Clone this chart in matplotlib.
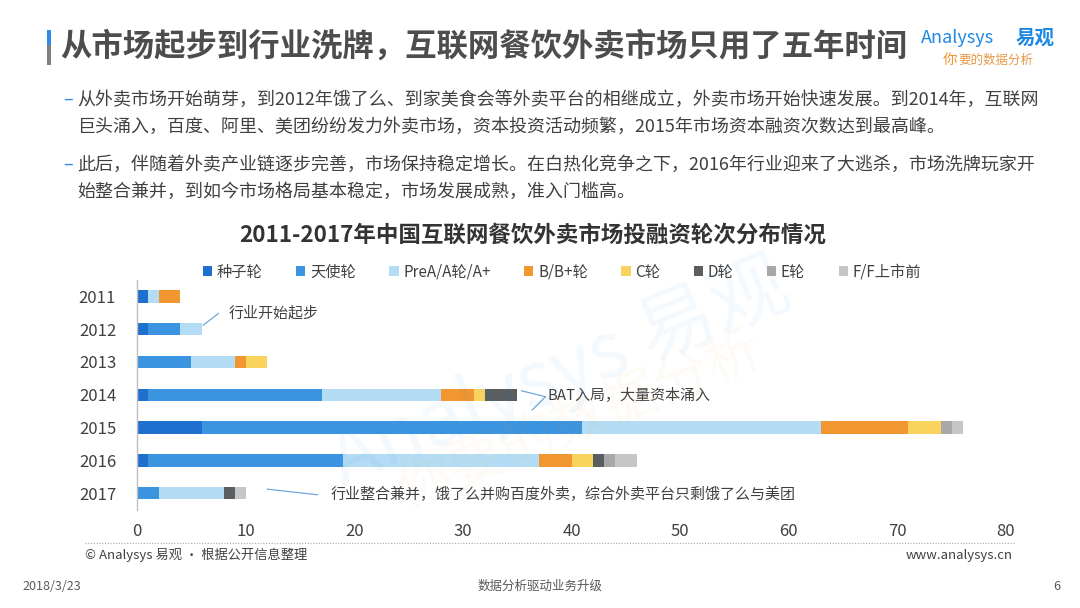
import matplotlib
matplotlib.use("Agg")
import matplotlib.pyplot as plt
from matplotlib.lines import Line2D
from matplotlib.patches import Rectangle
import numpy as np

plt.rcParams['font.family'] = ['Noto Sans CJK SC', 'DejaVu Sans']

years = ['2011', '2012', '2013', '2014', '2015', '2016', '2017']
rounds = ['种子轮', '天使轮', 'PreA/A轮/A+', 'B/B+轮', 'C轮', 'D轮', 'E轮', 'F/F上市前']
seed   = [1, 1, 0, 1, 6, 1, 0]
angel  = [0, 3, 5, 16, 35, 18, 2]
prea   = [1, 2, 4, 11, 22, 18, 6]
b_rnd  = [2, 0, 1, 3, 8, 3, 0]
c_rnd  = [0, 0, 2, 1, 3, 2, 0]
d_rnd  = [0, 0, 0, 3, 0, 1, 1]
e_rnd  = [0, 0, 0, 0, 1, 1, 0]
f_rnd  = [0, 0, 0, 0, 1, 2, 1]
series = [seed, angel, prea, b_rnd, c_rnd, d_rnd, e_rnd, f_rnd]
colors = ['#1F6FCF', '#3B94E0', '#B4DDF5', '#F2962F', '#FAD35F', '#5A5E61', '#A8A8A8', '#C6C6C6']
xticks = [0, 10, 20, 30, 40, 50, 60, 70, 80]

W, H = 1080, 608
fig = plt.figure(figsize=(W / 100, H / 100), dpi=100)
fig.patch.set_facecolor('white')

def fx(px):
    return px / W

def fy(py):
    return 1 - py / H

# title bar
fig.patches.append(Rectangle((fx(47), fy(45)), fx(4), 15 / H, transform=fig.transFigure,
                             facecolor='#2E8BE6', edgecolor='none'))
fig.patches.append(Rectangle((fx(47), fy(65)), fx(4), 20 / H, transform=fig.transFigure,
                             facecolor='#808080', edgecolor='none'))
fig.text(fx(60), fy(47), '从市场起步到行业洗牌，互联网餐饮外卖市场只用了五年时间',
         fontsize=22.6, fontweight='bold', color='#4D4D4D', ha='left', va='center')

# logo
fig.text(fx(921), fy(38), 'Analysys', fontsize=13, color='#1E88E5', ha='left', va='center',
         style='italic')
fig.text(fx(1055), fy(38), '易观', fontsize=14, fontweight='bold', color='#1E88E5',
         ha='right', va='center')
fig.text(fx(943), fy(60), '你', fontsize=10.5, color='#F0962E', ha='left', va='center')
fig.text(fx(958), fy(60), '要的数据分析', fontsize=9, color='#E59A4A', ha='left', va='center',
         style='italic')

# bullet paragraphs
para_lines = [
    (100, '从外卖市场开始萌芽，到2012年饿了么、到家美食会等外卖平台的相继成立，外卖市场开始快速发展。到2014年，互联网', True),
    (127, '巨头涌入，百度、阿里、美团纷纷发力外卖市场，资本投资活动频繁，2015年市场资本融资次数达到最高峰。', False),
    (165, '此后，伴随着外卖产业链逐步完善，市场保持稳定增长。在白热化竞争之下，2016年行业迎来了大逃杀，市场洗牌玩家开', True),
    (192, '始整合兼并，到如今市场格局基本稳定，市场发展成熟，准入门槛高。', False),
]
for py, txt, dash in para_lines:
    if dash:
        fig.text(fx(63), fy(py), '–', fontsize=13, color='#2E8BE6', ha='left', va='center')
    fig.text(fx(77), fy(py), txt, fontsize=12.95, color='#404040', ha='left', va='center')

# chart title
fig.text(fx(533), fy(235), '2011-2017年中国互联网餐饮外卖市场投融资轮次分布情况',
         fontsize=16.2, fontweight='bold', color='#333333', ha='center', va='center')

# watermark
fig.text(fx(560), fy(375), 'Analysys 易观', fontsize=56, color='#3B94E0', alpha=0.06,
         rotation=22, ha='center', va='center', style='italic')
fig.text(fx(580), fy(420), '你要的数据分析', fontsize=40, color='#F2962F', alpha=0.05,
         rotation=22, ha='center', va='center')

# axes
ax = fig.add_axes([fx(137), fy(509.5), fx(1006) - fx(137), 229.5 / H])
ypos = np.arange(len(years))
left = np.zeros(len(years))
handles = []
for name, vals, col in zip(rounds, series, colors):
    vals = np.array(vals, dtype=float)
    bc = ax.barh(ypos, vals, left=left, height=0.38, color=col, edgecolor='none', label=name)
    handles.append(bc)
    left = left + vals

ax.set_xlim(0, 80)
ax.set_ylim(6.5, -0.5)
ax.set_yticks(ypos)
ax.set_yticklabels(years, fontsize=12, color='#404040')
ax.set_xticks(xticks)
ax.set_xticklabels([str(t) for t in xticks], fontsize=12, color='#404040')
ax.tick_params(axis='both', length=0)
ax.tick_params(axis='x', pad=10)
ax.tick_params(axis='y', pad=15)
for s in ['top', 'right', 'bottom']:
    ax.spines[s].set_visible(False)
ax.spines['left'].set_color('#BFBFBF')
ax.spines['left'].set_linewidth(1)
ax.set_facecolor('none')

# annotations
acol = '#6FA8DC'
ax.plot([6.1, 7.5], [0.88, 0.52], color=acol, lw=0.9)
ax.text(8.4, 0.5, '行业开始起步', fontsize=10.8, color='#404040', ha='left', va='center')
ax.plot([35.4, 37.6], [2.88, 3.06], color=acol, lw=0.9)
ax.plot([36.4, 37.6], [3.46, 3.06], color=acol, lw=0.9)
ax.text(37.8, 3.0, 'BAT入局，大量资本涌入', fontsize=10.8, color='#404040', ha='left', va='center')
ax.plot([12.0, 16.6], [5.88, 6.05], color=acol, lw=0.9)
ax.text(17.8, 6.04, '行业整合兼并，饿了么并购百度外卖，综合外卖平台只剩饿了么与美团',
        fontsize=10.8, color='#404040', ha='left', va='center')

# legend
leg = fig.legend(handles=handles, labels=rounds, loc='center', ncol=8,
                 bbox_to_anchor=(fx(562), fy(272)), frameon=False, fontsize=11,
                 handlelength=0.6, handleheight=0.6, handletextpad=0.3,
                 columnspacing=2.2, labelcolor='#404040')

# dotted separator
fig.add_artist(Line2D([fx(85), fx(1015)], [fy(543), fy(543)], transform=fig.transFigure,
                      color='#A6A6A6', lw=0.8, linestyle=(0, (1, 1.5))))

# footer
fig.text(fx(85), fy(555), '© Analysys 易观 · 根据公开信息整理', fontsize=9.5, color='#404040',
         ha='left', va='center')
fig.text(fx(1013), fy(555), 'www.analysys.cn', fontsize=9.5, color='#404040',
         ha='right', va='center')
fig.text(fx(22), fy(586), '2018/3/23', fontsize=9, color='#595959', ha='left', va='center')
fig.text(fx(540), fy(586), '数据分析驱动业务升级', fontsize=9, color='#595959', ha='center', va='center')
fig.text(fx(1060), fy(586), '6', fontsize=9, color='#595959', ha='right', va='center')

fig.savefig('out.png', dpi=100, facecolor='white')
